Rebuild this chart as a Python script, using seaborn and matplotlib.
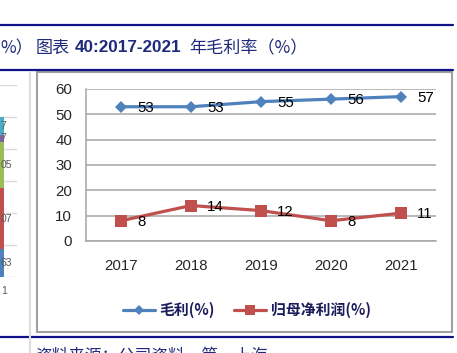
import matplotlib
matplotlib.use("Agg")
import matplotlib.pyplot as plt
import numpy as np
import pandas as pd
import seaborn as sns
from matplotlib.patches import Rectangle
from matplotlib.lines import Line2D
from matplotlib.font_manager import FontProperties

# ---------------- data ----------------
years = ["2017", "2018", "2019", "2020", "2021"]
gross_margin = [53, 53, 55, 56, 57]
net_margin = [8, 14, 12, 8, 11]
series_names = ["毛利(%)", "归母净利润(%)"]
series_colors = ["#4F81BD", "#C0504D"]
series_markers = ["D", "s"]

# fragment of the neighbouring chart (cut off at the left edge)
left_segments = [17.5, 38.1, 28.8, 4.4, 11.2]
left_colors = ["#4F81BD", "#C0504D", "#9BBB59", "#8064A2", "#4BACC6"]
left_labels = ["63", "07", "05", "7", "7"]

title_left = "%）"
title_main_a = "图表"
title_main_b = "40:2017-2021"
title_main_c = "年毛利率（%）"
source_text = "资料来源：公司资料，第一上海"

# ---------------- style ----------------
sns.set_style("white")
plt.rcParams["font.family"] = ["Liberation Sans", "Noto Sans CJK SC", "DejaVu Sans"]

W, H = 457, 353
fig = plt.figure(figsize=(W / 100, H / 100), dpi=100)


def fx(px):
    return px / W


def fy(py):
    return 1 - py / H


navy = "#10108a"
title_col = "#1f2a7a"
grid_col = "#a6a6a6"
cjk = ["Noto Sans CJK SC", "DejaVu Sans"]
lat = ["Liberation Sans", "DejaVu Sans"]

# horizontal navy rules
for yy in [25, 70, 337]:
    fig.add_artist(Line2D([0, fx(453)], [fy(yy), fy(yy)], color=navy, lw=1.6,
                          transform=fig.transFigure))

# title
ty = fy(48)
fig.text(fx(0), ty, title_left, family=cjk, fontsize=12.3, color=title_col, va="center")
fig.text(fx(36), ty, title_main_a, family=cjk, fontsize=12.3, color=title_col, va="center")
fig.text(fx(75), ty, title_main_b, family=lat, weight="bold", fontsize=12.3, color=title_col, va="center")
fig.text(fx(189), ty, title_main_c, family=cjk, fontsize=12.3, color=title_col, va="center")

# source text (cut off at the bottom)
fig.text(fx(35), fy(348), source_text, family=cjk, fontsize=12, color=title_col, va="top")

# light divider of the neighbouring chart
fig.add_artist(Line2D([fx(30), fx(30)], [fy(72), fy(353)], color="#dedede", lw=1.5,
                      transform=fig.transFigure))

# chart frame
fig.add_artist(Rectangle((fx(37), fy(332)), fx(452) - fx(37), fy(72) - fy(332),
                         fill=False, edgecolor="#a0a0a0", lw=1.5, transform=fig.transFigure))

# ---------------- left fragment ----------------
ax2 = fig.add_axes([0, fy(277), fx(17), fy(85) - fy(277)])
ax2.set_xlim(0, 17)
ax2.set_ylim(0, 120)
ax2.set_yticks(np.arange(0, 121, 20))
ax2.set_xticks([])
ax2.tick_params(left=False, labelleft=False)
ax2.grid(axis="y", color="#d9d9d9", lw=1.0)
ax2.set_axisbelow(True)
for s in ax2.spines.values():
    s.set_visible(False)
bottom = 0
for val, col, lab in zip(left_segments, left_colors, left_labels):
    ax2.bar([0], [val], bottom=bottom, width=4, align="edge", color=col, lw=0)
    ax2.text(0.3, bottom + val / 2, lab, ha="left", va="center", fontsize=7.5, color="#595959")
    bottom += val
ax2.patch.set_alpha(0)
fig.text(fx(1), fy(291), "1", ha="left", va="center", fontsize=7.5, color="#595959")

# ---------------- main chart ----------------
ax = fig.add_axes([fx(86), fy(241), fx(436) - fx(86), fy(89) - fy(241)])
df = pd.DataFrame({
    "x": list(range(len(years))) * 2,
    "value": gross_margin + net_margin,
    "series": [series_names[0]] * len(years) + [series_names[1]] * len(years),
})
sns.lineplot(data=df, x="x", y="value", hue="series", style="series",
             palette=series_colors, markers=series_markers, dashes=False,
             lw=2.3, markersize=8.2, markeredgewidth=0, legend=False, ax=ax)
for line in ax.get_lines():
    if line.get_marker() == "D":
        line.set_markersize(5.8)

for vals in (gross_margin, net_margin):
    for i, v in enumerate(vals):
        ax.annotate(str(v), (i, v), xytext=(16, -1), textcoords="offset pixels",
                    ha="left", va="center", fontsize=10.8, color="black")

ax.set_xlim(-0.5, len(years) - 0.5)
ax.set_ylim(0, 60)
ax.set_yticks(np.arange(0, 61, 10))
ax.set_xticks(range(len(years)))
ax.set_xticklabels(years)
ax.set_xlabel("")
ax.set_ylabel("")
ax.tick_params(axis="y", length=0, pad=10, labelsize=10.8)
ax.tick_params(axis="x", length=0, pad=13, labelsize=10.8)
ax.grid(axis="y", color=grid_col, lw=1.1)
ax.grid(axis="x", visible=False)
ax.set_axisbelow(True)
for side in ["top", "right"]:
    ax.spines[side].set_visible(False)
for side in ["left", "bottom"]:
    ax.spines[side].set_color(grid_col)
    ax.spines[side].set_linewidth(1.1)
ax.patch.set_alpha(0)

# legend
handles = [
    Line2D([], [], color=series_colors[0], lw=2.3, marker="D", markersize=4.8, markeredgewidth=0),
    Line2D([], [], color=series_colors[1], lw=2.3, marker="s", markersize=7.5, markeredgewidth=0),
]
leg = fig.legend(handles, series_names, loc="center", bbox_to_anchor=(fx(247), fy(310)),
                 ncol=2, frameon=False,
                 prop=FontProperties(family=cjk, weight="bold", size=10.7),
                 handlelength=2.15, handletextpad=0.3, columnspacing=1.3)
for t in leg.get_texts():
    t.set_color("#1c1c5c")

fig.savefig("out.png", dpi=100)
